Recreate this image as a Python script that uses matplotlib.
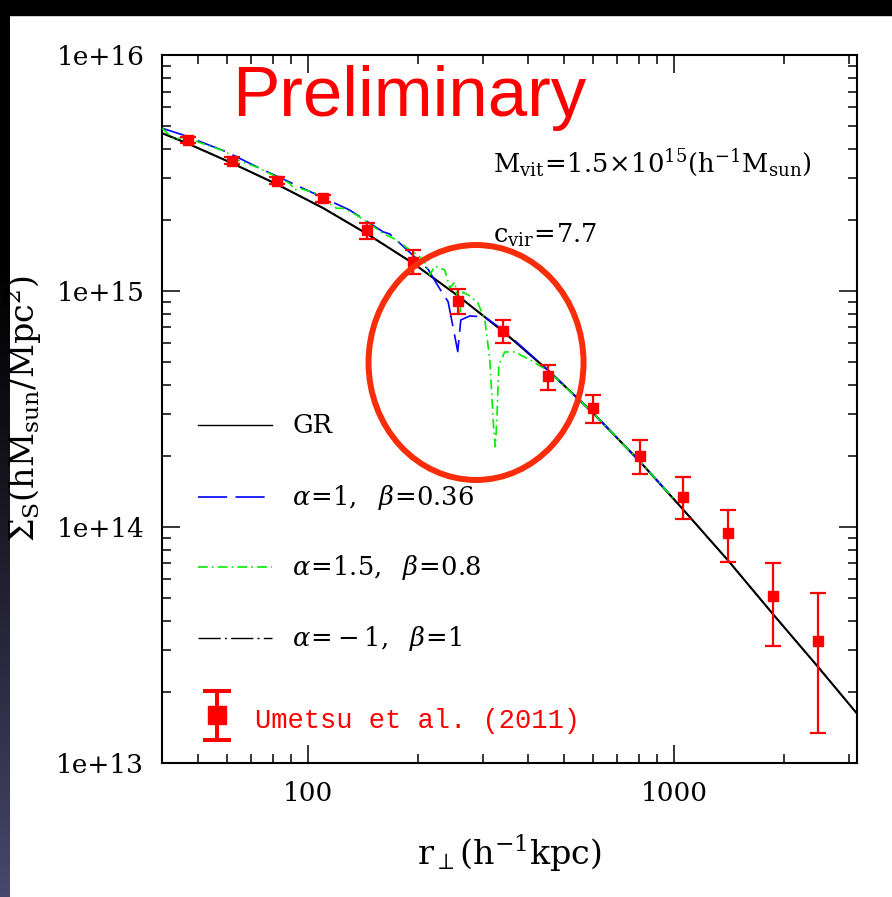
import numpy as np
import matplotlib
matplotlib.use("Agg")
import matplotlib.pyplot as plt
from matplotlib.patches import Ellipse, Rectangle

plt.rcParams['font.family'] = 'DejaVu Serif'
plt.rcParams['mathtext.fontset'] = 'dejavuserif'
plt.rcParams['lines.scale_dashes'] = False

# GR model (solid black), r in h^-1 kpc, Sigma in h Msun / Mpc^2
r_gr = [40, 47, 62, 82.3, 110, 145, 194, 256, 341, 453, 601, 806, 1054, 1405, 1857, 2474, 3150]
sigma_gr = [4.66e15, 4.21e15, 3.48e15, 2.83e15, 2.244e15, 1.744e15, 1.307e15, 9.56e14,
            6.73e14, 4.60e14, 3.03e14, 1.89e14, 1.191e14, 7.18e13, 4.28e13, 2.54e13, 1.62e13]

# alpha=1, beta=0.36 (blue dashed)
r_a1 = [40, 45.6, 59.8, 73.8, 99, 130, 160.3, 167.2, 212.7, 231.5, 241.3, 256.4, 261.3,
        276.6, 304, 341, 453, 601, 806, 1000]
sigma_a1 = [4.89e15, 4.58e15, 3.89e15, 3.31e15, 2.68e15, 2.20e15, 1.78e15, 1.743e15, 1.235e15,
            9.92e14, 9.0e14, 5.53e14, 7.53e14, 7.83e14, 7.75e14, 6.82e14, 4.60e14, 3.03e14,
            1.89e14, 1.31e14]

# alpha=1.5, beta=0.8 (green dash-dot)
r_a15 = [40, 43.2, 45.6, 59.8, 62.4, 73.8, 76.9, 89.1, 92.0, 94.9, 105.4, 114.6, 119.6, 124.6,
         135.6, 144.4, 160.3, 174.4, 189.6, 199.4, 208.4, 215.1, 221.9, 236.3, 243.9, 251.6,
         259.7, 264.7, 276.6, 290.9, 304, 313.6, 321.6, 324.7, 327.8, 331.9, 344.6, 367.1,
         403.5, 453, 601, 806, 1000]
sigma_a15 = [4.89e15, 4.36e15, 4.50e15, 3.89e15, 3.65e15, 3.31e15, 3.20e15, 2.86e15, 2.68e15,
             2.72e15, 2.59e15, 2.35e15, 2.24e15, 2.24e15, 2.10e15, 1.965e15, 1.754e15, 1.644e15,
             1.491e15, 1.42e15, 1.326e15, 1.168e15, 1.275e15, 1.226e15, 1.029e15, 1.09e15,
             8.14e14, 9.89e14, 9.52e14, 8.89e14, 7.53e14, 5.10e14, 2.57e14, 2.185e14, 2.84e14,
             4.85e14, 5.51e14, 5.51e14, 5.10e14, 4.58e14, 3.03e14, 1.89e14, 1.31e14]

# alpha=-1, beta=1 (black dash-dot) - indistinguishable from GR
r_am1 = r_gr
sigma_am1 = sigma_gr

# Umetsu et al. (2011) data
r_obs = [47.0, 62.0, 82.3, 109.9, 145.3, 193.6, 256, 341, 452.6, 601, 806, 1054, 1405, 1857, 2474]
sigma_obs = [4.36e15, 3.56e15, 2.93e15, 2.47e15, 1.81e15, 1.33e15, 9.09e14, 6.76e14, 4.36e14,
             3.18e14, 2.00e14, 1.342e14, 9.44e13, 5.10e13, 3.29e13]
sigma_hi = [4.50e15, 3.68e15, 3.03e15, 2.56e15, 1.945e15, 1.49e15, 1.02e15, 7.53e14, 4.85e14,
            3.62e14, 2.33e14, 1.62e14, 1.178e14, 7.0e13, 5.26e13]
sigma_lo = [4.22e15, 3.45e15, 2.83e15, 2.38e15, 1.655e15, 1.18e15, 7.98e14, 6.01e14, 3.80e14,
            2.75e14, 1.67e14, 1.076e14, 7.07e13, 3.13e13, 1.34e13]

legend_labels = ['GR', r'$\alpha\!=\!1,\ \ \beta\!=\!0.36$', r'$\alpha\!=\!1.5,\ \ \beta\!=\!0.8$',
                 r'$\alpha\!=\!-1,\ \ \beta\!=\!1$']

fig = plt.figure(figsize=(8.92, 8.97), dpi=100, facecolor='white')

# dark slide border (top band + left strip)
bg = fig.add_axes([0, 0, 1, 1], zorder=-5)
bg.axis('off')
yy = np.arange(897)
frac = np.clip((yy - 250) / 647.0, 0, 1) ** 1.2
strip = np.zeros((897, 1, 3))
strip[:, 0, 0] = frac * 72 / 255
strip[:, 0, 1] = frac * 72 / 255
strip[:, 0, 2] = frac * 108 / 255
bg.imshow(strip, extent=(0, 10, 897, 0), aspect='auto')
bg.add_patch(Rectangle((0, 0), 892, 15, color='black'))
bg.set_xlim(0, 892)
bg.set_ylim(897, 0)

ax = fig.add_axes([0.18195, 0.14972, 0.77848, 0.78896])
ax.set_xscale('log')
ax.set_yscale('log')

ax.plot(r_gr, sigma_gr, color='black', lw=1.5, zorder=3)
ax.plot(r_am1, sigma_am1, color='black', lw=1.0, linestyle=(0, (16, 3, 1.5, 3)), zorder=2)
ax.plot(r_a1, sigma_a1, color='#0000ff', lw=1.2, linestyle=(0, (21, 6)), zorder=4)
ax.plot(r_a15, sigma_a15, color='#00ee00', lw=1.2, linestyle=(0, (7, 3, 1.2, 3)), zorder=5)

yerr = [np.array(sigma_obs) - np.array(sigma_lo), np.array(sigma_hi) - np.array(sigma_obs)]
ax.errorbar(r_obs, sigma_obs, yerr=yerr, fmt='s', color='#ff0000', ms=6.8,
            elinewidth=1.6, capsize=5.5, capthick=1.6, zorder=6)

ax.set_xticks([100, 1000], labels=['100', '1000'])
ax.set_yticks([1e13, 1e14, 1e15, 1e16], labels=['1e+13', '1e+14', '1e+15', '1e+16'])
ax.xaxis.set_minor_locator(matplotlib.ticker.LogLocator(subs=np.arange(2, 10)))
ax.yaxis.set_minor_locator(matplotlib.ticker.LogLocator(subs=np.arange(2, 10)))
ax.xaxis.set_minor_formatter(matplotlib.ticker.NullFormatter())
ax.yaxis.set_minor_formatter(matplotlib.ticker.NullFormatter())
ax.tick_params(which='both', direction='in', top=True, right=True, width=1.1, labelsize=19)
ax.tick_params(which='major', length=13, pad=13)
ax.tick_params(which='minor', length=6.5)
for s in ax.spines.values():
    s.set_linewidth(1.5)

ax.set_xlabel(r'$\mathrm{r_{\perp}(h^{-1}kpc)}$', fontsize=24)
ax.set_ylabel(r'$\Sigma_{\rm S}\mathrm{(hM_{sun}/Mpc^2)}$', fontsize=24)
ax.xaxis.set_label_coords(0.5, -0.099)
ax.yaxis.set_label_coords(-0.170, 0.5)

# annotations
ax.text(0.100, 0.9138, 'Preliminary', transform=ax.transAxes, color='#ff0000',
        fontsize=51, family='Liberation Sans', va='baseline')
ax.text(0.476, 0.8333, r'$\mathrm{M_{vit}\!=\!1.5\!\times\!10^{15}(h^{-1}M_{sun})}$',
        transform=ax.transAxes, fontsize=18.5, va='baseline')
ax.text(0.476, 0.734, r'$\mathrm{c_{vir}\!=\!7.7}$', transform=ax.transAxes, fontsize=18.5,
        va='baseline')
ax.add_patch(Ellipse((0.4518, 0.5655), 0.3096, 0.332, transform=ax.transAxes, fill=False,
                     ec='#fa2d0a', lw=4.3, zorder=7))

# legend drawn by hand
styles = [dict(color='black', lw=1.0, linestyle='-'),
          dict(color='#0000ff', lw=1.2, linestyle=(0, (21, 6))),
          dict(color='#00ee00', lw=1.2, linestyle=(0, (7, 3, 1.2, 3))),
          dict(color='black', lw=1.0, linestyle=(0, (16, 3, 1.5, 3)))]
rows = [0.4772, 0.3759, 0.2761, 0.1766]
for lab, st, yrow in zip(legend_labels, styles, rows):
    ax.plot([0.0514, 0.158], [yrow, yrow], transform=ax.transAxes, **st)
    ax.text(0.1868, yrow - 0.0113, lab, transform=ax.transAxes, fontsize=18.5, va='baseline')

ax.errorbar([0.0783], [0.0667], yerr=[[0.034], [0.034]], fmt='s', color='#ff0000', ms=13.0,
            elinewidth=2.9, capsize=10, capthick=2.9, transform=ax.transAxes, clip_on=False)
ax.text(0.1335, 0.0667 - 0.0179, 'Umetsu et al. (2011)', transform=ax.transAxes,
        color='#ff0000', fontsize=19.5, family='Liberation Mono', va='baseline')

ax.set_xlim(40, 3150)
ax.set_ylim(1e13, 1e16)

fig.savefig('out.png', dpi=100, facecolor='white')
